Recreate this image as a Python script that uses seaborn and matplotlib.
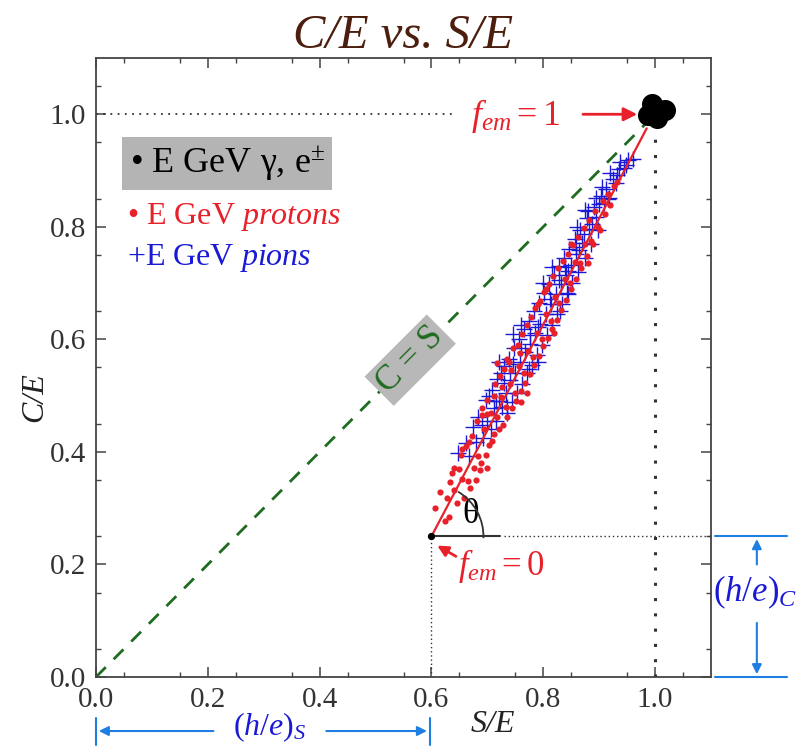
import numpy as np
import pandas as pd
import matplotlib
matplotlib.use("Agg")
import matplotlib.pyplot as plt
import seaborn as sns
from matplotlib.patches import Arc

# ---------------- data ----------------
proton_s = [0.606, 0.615, 0.624, 0.627, 0.633, 0.637, 0.640, 0.645, 0.650, 0.654,
            0.659, 0.662, 0.665, 0.669, 0.672, 0.676, 0.679, 0.682, 0.684, 0.688,
            0.690, 0.694, 0.697, 0.700, 0.703, 0.706, 0.709, 0.712, 0.714, 0.717,
            0.717, 0.720, 0.722, 0.725, 0.728, 0.730, 0.733, 0.736, 0.738, 0.741,
            0.744, 0.746, 0.749, 0.752, 0.754, 0.757, 0.760, 0.762, 0.765, 0.768,
            0.770, 0.773, 0.776, 0.778, 0.781, 0.784, 0.786, 0.789, 0.792, 0.794,
            0.797, 0.800, 0.802, 0.805, 0.808, 0.810, 0.813, 0.816, 0.818, 0.821,
            0.824, 0.826, 0.829, 0.832, 0.835, 0.838, 0.841, 0.844, 0.847, 0.850,
            0.853, 0.856, 0.859, 0.862, 0.865, 0.868, 0.872, 0.875, 0.878, 0.882,
            0.885, 0.889, 0.893, 0.897, 0.901, 0.906, 0.910, 0.915, 0.920, 0.926,
            0.932, 0.631, 0.652, 0.668, 0.686, 0.699, 0.711, 0.727, 0.742, 0.758,
            0.700, 0.735, 0.760, 0.790, 0.820, 0.850, 0.880, 0.655, 0.640, 0.690,
            0.770, 0.805]
proton_c = [0.300, 0.329, 0.277, 0.318, 0.346, 0.362, 0.333, 0.309, 0.370, 0.352,
            0.318, 0.410, 0.348, 0.335, 0.428, 0.372, 0.350, 0.455, 0.392, 0.380,
            0.465, 0.440, 0.395, 0.492, 0.412, 0.470, 0.420, 0.432, 0.520, 0.462,
            0.558, 0.440, 0.535, 0.498, 0.448, 0.548, 0.480, 0.462, 0.560, 0.520,
            0.478, 0.584, 0.505, 0.490, 0.590, 0.552, 0.508, 0.610, 0.540, 0.522,
            0.625, 0.580, 0.538, 0.640, 0.568, 0.555, 0.655, 0.612, 0.570, 0.668,
            0.600, 0.588, 0.684, 0.645, 0.602, 0.698, 0.632, 0.618, 0.712, 0.676,
            0.635, 0.726, 0.665, 0.652, 0.740, 0.708, 0.670, 0.752, 0.700, 0.690,
            0.768, 0.738, 0.708, 0.782, 0.735, 0.726, 0.798, 0.770, 0.748, 0.812,
            0.775, 0.770, 0.828, 0.800, 0.795, 0.846, 0.822, 0.858, 0.838, 0.872,
            0.880, 0.285, 0.395, 0.418, 0.368, 0.468, 0.500, 0.515, 0.545, 0.575,
            0.372, 0.565, 0.488, 0.662, 0.612, 0.770, 0.735, 0.405, 0.372, 0.478,
            0.505, 0.690]

pion_s = [0.648, 0.662, 0.668, 0.675, 0.680, 0.684, 0.690, 0.693, 0.697, 0.700,
          0.703, 0.706, 0.709, 0.712, 0.715, 0.718, 0.721, 0.724, 0.727, 0.730,
          0.733, 0.736, 0.739, 0.741, 0.744, 0.747, 0.750, 0.753, 0.756, 0.759,
          0.762, 0.765, 0.768, 0.771, 0.774, 0.777, 0.780, 0.783, 0.786, 0.789,
          0.792, 0.795, 0.798, 0.801, 0.804, 0.807, 0.810, 0.813, 0.816, 0.819,
          0.822, 0.825, 0.828, 0.831, 0.834, 0.837, 0.840, 0.843, 0.846, 0.849,
          0.852, 0.856, 0.859, 0.862, 0.866, 0.870, 0.874, 0.878, 0.882, 0.886,
          0.890, 0.894, 0.898, 0.903, 0.908, 0.913, 0.918, 0.924, 0.930, 0.936,
          0.945, 0.952, 0.960, 0.812, 0.828, 0.845, 0.858, 0.872, 0.888, 0.900,
          0.915, 0.932, 0.948, 0.838, 0.864, 0.790, 0.776, 0.760, 0.745, 0.730,
          0.715, 0.905, 0.920, 0.938, 0.895, 0.880, 0.745, 0.775, 0.800, 0.830,
          0.860, 0.760, 0.790, 0.815, 0.845, 0.875, 0.720, 0.735]
pion_c = [0.398, 0.416, 0.392, 0.445, 0.418, 0.462, 0.448, 0.425, 0.492, 0.455,
          0.500, 0.440, 0.510, 0.478, 0.455, 0.530, 0.490, 0.540, 0.480, 0.552,
          0.505, 0.470, 0.565, 0.528, 0.488, 0.585, 0.540, 0.505, 0.600, 0.560,
          0.520, 0.618, 0.578, 0.540, 0.632, 0.592, 0.555, 0.650, 0.612, 0.572,
          0.665, 0.628, 0.590, 0.682, 0.645, 0.608, 0.698, 0.662, 0.625, 0.715,
          0.680, 0.645, 0.730, 0.698, 0.662, 0.745, 0.715, 0.682, 0.760, 0.732,
          0.700, 0.778, 0.752, 0.720, 0.795, 0.772, 0.745, 0.815, 0.796, 0.770,
          0.835, 0.818, 0.795, 0.855, 0.842, 0.868, 0.852, 0.885, 0.878, 0.902,
          0.905, 0.918, 0.920, 0.672, 0.705, 0.722, 0.765, 0.788, 0.805, 0.840,
          0.850, 0.892, 0.910, 0.728, 0.758, 0.622, 0.608, 0.585, 0.556, 0.522,
          0.490, 0.870, 0.895, 0.915, 0.852, 0.828, 0.610, 0.548, 0.700, 0.650,
          0.800, 0.625, 0.560, 0.728, 0.680, 0.830, 0.560, 0.480]

gamma_s = [0.995, 1.018, 0.987, 1.003, 1.005]
gamma_c = [1.019, 1.008, 0.998, 0.993, 1.008]

fem0_point = (0.60, 0.25)
fem1_point = (1.00, 1.00)

tick_values = [0.0, 0.2, 0.4, 0.6, 0.8, 1.0]
tick_labels = ["0.0", "0.2", "0.4", "0.6", "0.8", "1.0"]

# ---------------- styling ----------------
sns.set_theme(style="ticks")
plt.rcParams['font.family'] = ['Liberation Serif', 'DejaVu Serif']
plt.rcParams['mathtext.fontset'] = 'custom'
plt.rcParams['mathtext.rm'] = 'Liberation Serif'
plt.rcParams['mathtext.it'] = 'Liberation Serif:italic'
plt.rcParams['mathtext.bf'] = 'Liberation Serif:bold'

RED = '#e8202a'
BLUE = '#1a1ad6'
LBLUE = '#1e7fe0'
GREEN = '#1f6b1f'
DGRAY = '#444444'

fig = plt.figure(figsize=(8.02, 7.49), dpi=100)
ax = fig.add_axes([96/802, 1-677/749, (711-96)/802, (677-58)/749])
ax.set_xlim(0, 1.1)
ax.set_ylim(0, 1.1)

df_p = pd.DataFrame({"S/E": proton_s, "C/E": proton_c})
df_pi = pd.DataFrame({"S/E": pion_s, "C/E": pion_c})
df_g = pd.DataFrame({"S/E": gamma_s, "C/E": gamma_c})

# reference lines
ax.plot([0, 0.985], [0, 0.985], ls=(0, (5, 4)), color=GREEN, lw=2, zorder=2)
ax.plot([0, 0.645], [1.0, 1.0], ls=(0, (1, 3)), color='#333333', lw=1.3, zorder=1)
ax.plot([1.0, 1.0], [0, 0.96], ls=(0, (1, 4)), color='#333333', lw=2.2, zorder=1)
ax.plot([0.6, 0.6], [0, 0.25], ls=(0, (1, 2)), color='#333333', lw=1, zorder=1)
ax.plot([0.6, 0.723], [0.25, 0.25], color='#333333', lw=1.5, zorder=2)
ax.plot([0.73, 1.1], [0.25, 0.25], ls=(0, (1, 2)), color='#333333', lw=1, zorder=1)

# data
sns.scatterplot(data=df_pi, x="S/E", y="C/E", marker='+', s=140, color=BLUE,
                linewidth=1.0, ax=ax, zorder=3, legend=False)
sns.scatterplot(data=df_p, x="S/E", y="C/E", marker='o', s=20, color=RED,
                linewidth=0, ax=ax, zorder=4, legend=False)
ax.plot([fem0_point[0], 0.985], [fem0_point[1], 0.975], color=RED, lw=1.6, zorder=5)
sns.scatterplot(data=df_g, x="S/E", y="C/E", marker='o', s=230, color='black',
                linewidth=0, ax=ax, zorder=6, legend=False)
ax.scatter([fem0_point[0]], [fem0_point[1]], s=18, color='black', zorder=6)

# theta arc
r = 0.093
ax.add_patch(Arc(fem0_point, 2*r, 2*r*559/563, theta1=-2, theta2=59,
                 color='#333333', lw=1.3, zorder=5))
ax.text(0.671, 0.288, "θ", fontsize=25, color='black', ha='center', va='center')

# annotations
ax.annotate("", xy=(0.973, 1.0), xytext=(0.866, 1.0),
            arrowprops=dict(arrowstyle='-|>', color=RED, lw=2, mutation_scale=20))
ax.text(0.670, 0.981, r"$f_{em} = 1$", color=RED, fontsize=26, ha='left', va='baseline')
ax.annotate("", xy=(0.606, 0.236), xytext=(0.648, 0.212),
            arrowprops=dict(arrowstyle='-|>', color=RED, lw=2, mutation_scale=16))
ax.text(0.648, 0.181, r"$f_{em} = 0$", color=RED, fontsize=25, ha='left', va='baseline')

ax.text(0.562, 0.563, "C = S", rotation=45, rotation_mode='anchor', ha='center',
        va='center', color=GREEN, fontsize=25,
        bbox=dict(boxstyle='square,pad=0.12', fc='#b8b8b8', ec='none'), zorder=4)

# legend-like texts
ax.text(0.060, 0.913, "• E GeV γ, e$^{\\pm}$", fontsize=26, color='black',
        ha='left', va='center',
        bbox=dict(boxstyle='square,pad=0.2', fc='#b4b4b4', ec='none'))
ax.text(0.055, 0.817, "• E GeV $\\mathit{protons}$", fontsize=23, color=RED,
        ha='left', va='center')
ax.text(0.055, 0.744, "+E GeV $\\mathit{pions}$", fontsize=23, color=BLUE,
        ha='left', va='center')

# outside (h/e)_S
ax.annotate("", xy=(0.0, -0.096), xytext=(0.215, -0.096), annotation_clip=False,
            arrowprops=dict(arrowstyle='-|>', color=LBLUE, lw=1.5, mutation_scale=14))
ax.annotate("", xy=(0.597, -0.096), xytext=(0.407, -0.096), annotation_clip=False,
            arrowprops=dict(arrowstyle='-|>', color=LBLUE, lw=1.5, mutation_scale=14))
ax.plot([0.0, 0.0], [-0.072, -0.12], color=LBLUE, lw=1.5, clip_on=False)
ax.plot([0.597, 0.597], [-0.072, -0.12], color=LBLUE, lw=1.5, clip_on=False)
ax.text(0.311, -0.090, r"$(h/e)_S$", color=BLUE, fontsize=23, ha='center',
        va='center', clip_on=False)

# outside (h/e)_C
ax.plot([1.107, 1.236], [0.25, 0.25], color=LBLUE, lw=1.5, clip_on=False)
ax.plot([1.107, 1.236], [0.0, 0.0], color=LBLUE, lw=1.5, clip_on=False)
ax.annotate("", xy=(1.182, 0.25), xytext=(1.182, 0.195), annotation_clip=False,
            arrowprops=dict(arrowstyle='-|>', color=LBLUE, lw=1.5, mutation_scale=14))
ax.annotate("", xy=(1.182, 0.0), xytext=(1.182, 0.101), annotation_clip=False,
            arrowprops=dict(arrowstyle='-|>', color=LBLUE, lw=1.5, mutation_scale=14))
ax.text(1.103, 0.151, r"$(h/e)_C$", color=BLUE, fontsize=25, ha='left',
        va='center', clip_on=False)

# axes & ticks
ax.set_xticks(tick_values)
ax.set_xticklabels(tick_labels)
ax.set_yticks(tick_values)
ax.set_yticklabels(tick_labels)
ax.set_xticks(np.arange(0.05, 1.1, 0.1), minor=True)
ax.set_yticks(np.arange(0.05, 1.1, 0.1), minor=True)
ax.tick_params(which='both', direction='in', top=True, right=True,
               color=DGRAY, labelcolor='#333333')
ax.tick_params(which='major', length=7, width=1.1, labelsize=21)
ax.tick_params(axis='x', which='major', pad=7)
ax.tick_params(axis='y', which='major', pad=7)
ax.tick_params(which='minor', length=3.5, width=1.0)
for sp in ax.spines.values():
    sp.set_color(DGRAY)
    sp.set_linewidth(1.3)

ax.set_xlabel("S/E", fontsize=23, fontstyle='italic', color='#222222')
ax.xaxis.label.set_va('center')
ax.xaxis.set_label_coords(0.645, -0.076)
ax.set_ylabel("C/E", fontsize=23, fontstyle='italic', color='#222222')
ax.yaxis.label.set_va('center')
ax.yaxis.set_label_coords(-0.099, 0.452)

fig.text(403/802, 1 - 36/749, "C/E vs. S/E", fontsize=35,
         fontstyle='italic', color='#4b1e0e', ha='center', va='center')

fig.savefig("out.png", dpi=100)
